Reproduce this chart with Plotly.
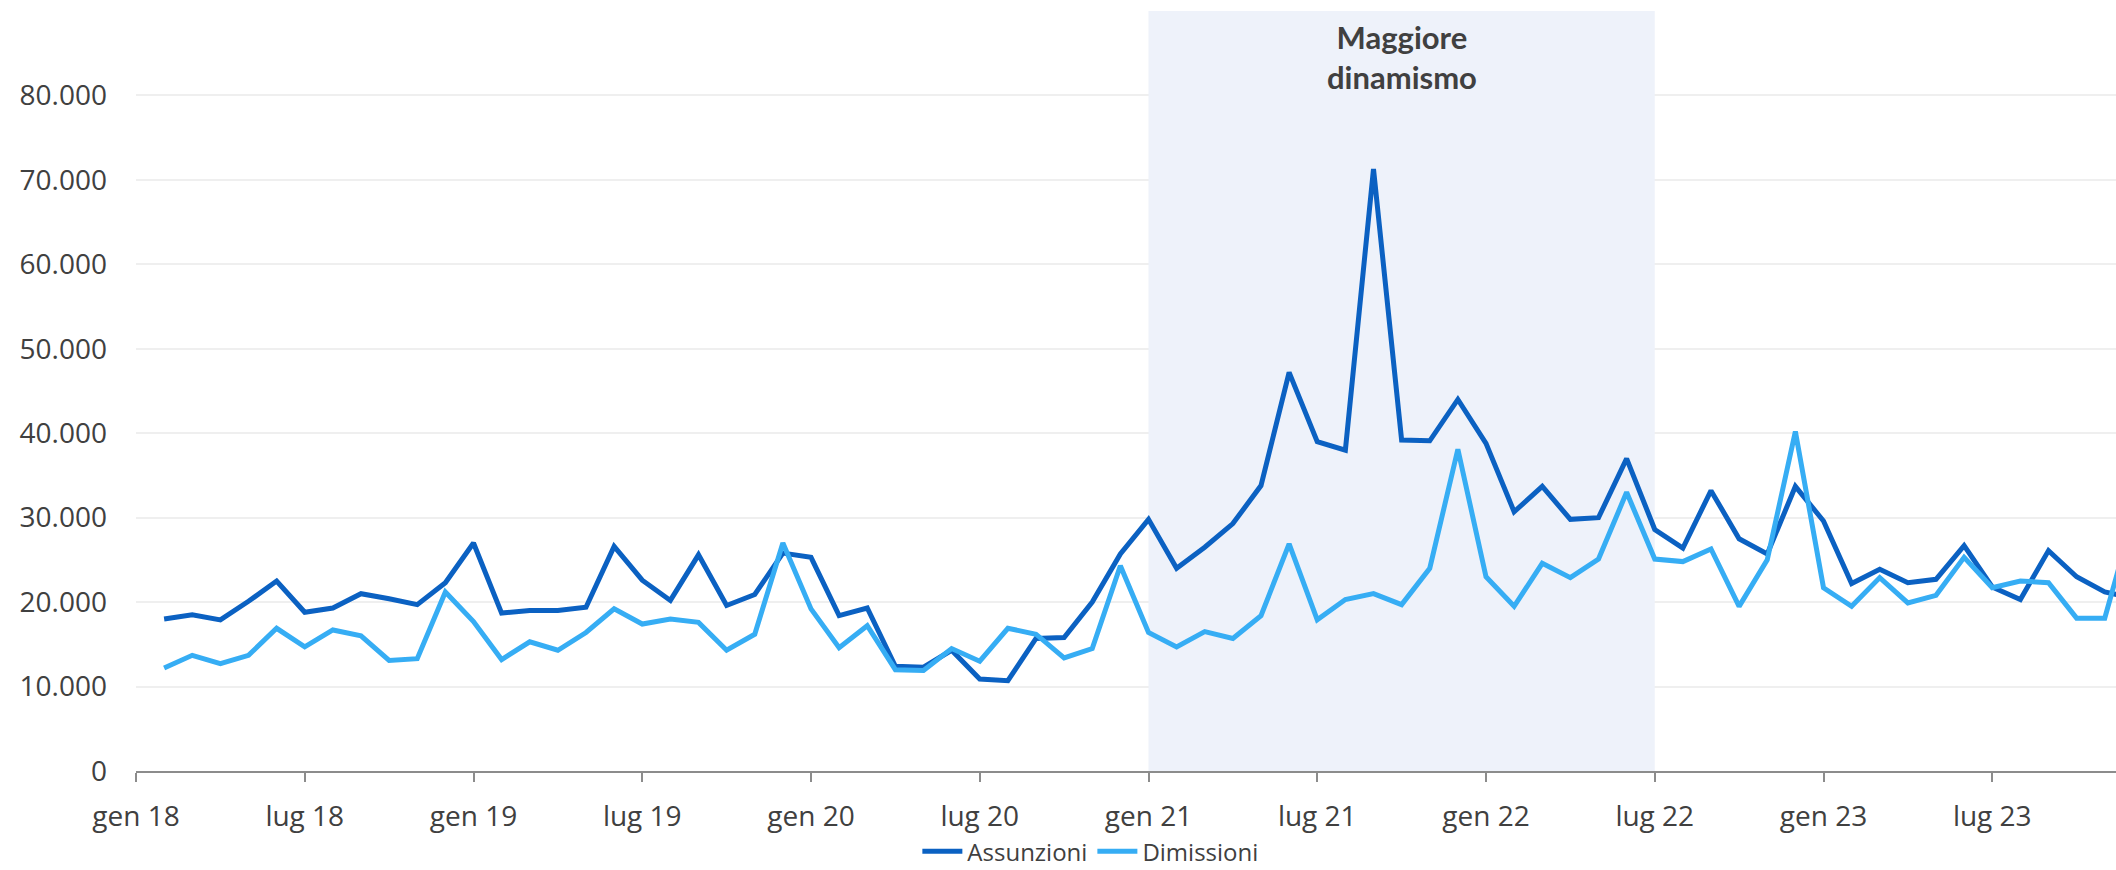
import plotly.graph_objects as go

# Monthly series, Feb 2018 - Dec 2023 (thousands of contracts)
months = list(range(1, 72))  # month index: 0 = gen 18
assunzioni = [
    18.0, 18.5, 17.9, 20.1, 22.5, 18.8, 19.3, 21.0, 20.4, 19.7, 22.3,   # feb-dic 18
    27.0, 18.7, 19.0, 19.0, 19.4, 26.6, 22.6, 20.2, 25.6, 19.6, 20.9, 25.8,  # 2019
    25.3, 18.4, 19.3, 12.4, 12.3, 14.3, 10.9, 10.7, 15.7, 15.8, 20.0, 25.7,  # 2020
    29.8, 24.0, 26.5, 29.3, 33.8, 47.2, 39.0, 38.0, 71.3, 39.2, 39.1, 44.0,  # 2021
    38.8, 30.7, 33.7, 29.8, 30.0, 37.0, 28.6, 26.4, 33.2, 27.5, 25.7, 33.7,  # 2022
    29.6, 22.2, 23.9, 22.3, 22.7, 26.7, 21.8, 20.3, 26.1, 23.0, 21.2, 20.5,  # 2023
]
dimissioni = [
    12.2, 13.7, 12.7, 13.7, 16.9, 14.7, 16.7, 16.0, 13.1, 13.3, 21.2,
    17.7, 13.2, 15.3, 14.3, 16.4, 19.2, 17.4, 18.0, 17.6, 14.3, 16.2, 27.0,
    19.2, 14.6, 17.2, 12.0, 11.9, 14.5, 13.0, 16.9, 16.2, 13.4, 14.5, 24.3,
    16.4, 14.7, 16.5, 15.7, 18.4, 26.9, 17.9, 20.3, 21.0, 19.7, 24.0, 38.1,
    23.0, 19.5, 24.6, 22.9, 25.1, 33.0, 25.1, 24.8, 26.3, 19.5, 25.0, 40.2,
    21.7, 19.5, 22.9, 19.9, 20.8, 25.3, 21.7, 22.5, 22.3, 18.1, 18.1, 30.0,
]
assunzioni = [v * 1000 for v in assunzioni]
dimissioni = [v * 1000 for v in dimissioni]

tick_months = list(range(0, 67, 6))
tick_labels = ["gen 18", "lug 18", "gen 19", "lug 19", "gen 20", "lug 20",
               "gen 21", "lug 21", "gen 22", "lug 22", "gen 23", "lug 23"]
y_ticks = list(range(0, 80001, 10000))
y_labels = [f"{v:,}".replace(",", ".") for v in y_ticks]

highlight_start, highlight_end = 36, 54  # gen 21 - lug 22
highlight_label = "Maggiore<br>dinamismo"

DARK = "#0B61C2"
LIGHT = "#36ADF4"
TEXT = "#404040"

fig = go.Figure()
fig.add_trace(go.Scatter(x=months, y=assunzioni, mode="lines", name="Assunzioni",
                         line=dict(color=DARK, width=5)))
fig.add_trace(go.Scatter(x=months, y=dimissioni, mode="lines", name="Dimissioni",
                         line=dict(color=LIGHT, width=5)))

fig.add_shape(type="rect", xref="x", yref="y",
              x0=highlight_start, x1=highlight_end, y0=0, y1=90000,
              fillcolor="#EEF2FA", line=dict(width=0), layer="between")

fig.add_annotation(x=(highlight_start + highlight_end) / 2, xref="x",
                   y=0.94, yref="paper", yanchor="middle",
                   text=f"<b>{highlight_label}</b>", showarrow=False,
                   font=dict(family="Lato", size=31, color=TEXT))

fig.update_layout(
    width=2116, height=870,
    margin=dict(l=136, r=0, t=11, b=99, autoexpand=False),
    paper_bgcolor="white", plot_bgcolor="white",
    font=dict(family="Open Sans", color=TEXT),
    showlegend=True,
    legend=dict(orientation="h", x=0.482, xanchor="center", y=-0.106, yanchor="middle",
                font=dict(size=24, color=TEXT), itemwidth=40, tracegroupgap=0,
                borderwidth=0, bgcolor="rgba(0,0,0,0)"),
    xaxis=dict(range=[0, 70.4], tickmode="array", tickvals=tick_months, ticktext=tick_labels,
               showgrid=False, zeroline=False, showline=True, linecolor="#8C8C8C", linewidth=2,
               ticks="outside", ticklen=9, tickwidth=2, tickcolor="#8C8C8C",
               tickfont=dict(size=28, color=TEXT), ticklabelstandoff=10,
               automargin=False),
    yaxis=dict(range=[0, 90000], tickmode="array", tickvals=y_ticks, ticktext=y_labels,
               showgrid=True, gridcolor="#EFEFEF", gridwidth=2, zeroline=False, showline=False,
               tickfont=dict(size=28, color=TEXT), ticklabelstandoff=28,
               automargin=False),
)

fig.write_html("out.html")
